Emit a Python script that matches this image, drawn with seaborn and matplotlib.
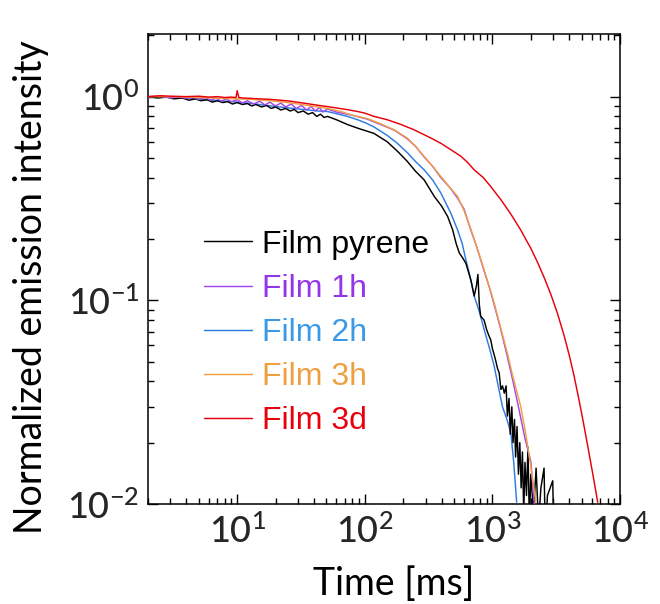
import numpy as np
import pandas as pd
import matplotlib
matplotlib.use("Agg")
import matplotlib.pyplot as plt
from matplotlib.lines import Line2D
from matplotlib.ticker import LogLocator
import seaborn as sns

# ---------------- data ----------------
series_names = ["Film pyrene", "Film 1h", "Film 2h", "Film 3h", "Film 3d"]

pyrene_t = [2, 2.4, 2.8, 3.2, 3.7, 4.2, 4.7, 5.2, 5.8, 6.4, 7.0, 7.7, 8.4, 9.2, 10, 11, 12, 13, 14, 15.5, 17,
            18.5, 20, 22, 24, 26, 28, 30, 33, 36, 39, 42, 45, 48, 51,
            60, 73, 88, 118, 150, 180, 216, 250, 292, 350, 400, 446, 488, 520, 550, 590, 620, 680,
            720, 750, 770, 790, 810, 860, 900, 930, 970, 1000, 1050, 1100, 1130, 1165, 1200, 1240,
            1280, 1310, 1350, 1380, 1420, 1450, 1490, 1520, 1560, 1600, 1640, 1680, 1720, 1760,
            1800, 1850, 1900, 1950, 2000, 2100, 2200, 2300, 2400, 2540, 2600, 2700, 2970, 3050]
pyrene_y = [1.00, 0.985, 0.995, 0.975, 0.985, 0.96, 0.975, 0.955, 0.965, 0.94, 0.955, 0.935, 0.945, 0.92, 0.935,
            0.915, 0.925, 0.90, 0.915, 0.89, 0.905, 0.875, 0.89, 0.86, 0.875, 0.85, 0.865, 0.835, 0.85, 0.82,
            0.835, 0.80, 0.82, 0.79, 0.80,
            0.77, 0.73, 0.70, 0.66, 0.60, 0.54, 0.48, 0.43, 0.39, 0.324, 0.29, 0.258, 0.222, 0.19, 0.171,
            0.16, 0.152, 0.125, 0.105, 0.118, 0.134, 0.095, 0.0835, 0.080, 0.072, 0.068, 0.064, 0.058,
            0.052, 0.046, 0.044, 0.0365, 0.038, 0.035,
            0.038, 0.027, 0.033, 0.022, 0.030, 0.020, 0.026, 0.017, 0.024, 0.014, 0.020, 0.012, 0.018,
            0.009, 0.016, 0.011, 0.019, 0.008, 0.014, 0.009, 0.015, 0.008, 0.012, 0.015, 0.007, 0.011,
            0.013, 0.006]

film1h_t = [2, 2.5, 3, 3.5, 4, 4.5, 5, 5.6, 6.2, 6.8, 7.5, 8.2, 9, 10, 11, 12, 13.5, 15, 16.5, 18, 20, 22,
            24, 26.5, 29, 32, 35, 38, 41, 44, 47, 51,
            60, 80, 105, 140, 170, 216, 250, 292, 340, 395, 460, 533, 600, 680, 760, 862, 950, 1033,
            1150, 1300, 1450, 1600, 1800, 2000, 2130]
film1h_y = [1.00, 1.005, 0.985, 1.00, 0.98, 0.995, 0.97, 0.99, 0.96, 0.985, 0.95, 0.975, 0.945, 0.965,
            0.93, 0.955, 0.92, 0.95, 0.91, 0.94, 0.90, 0.93, 0.89, 0.92, 0.875, 0.905, 0.86, 0.895, 0.85,
            0.885, 0.84, 0.87,
            0.84, 0.81, 0.775, 0.72, 0.685, 0.62, 0.57, 0.505, 0.455, 0.40, 0.36, 0.318, 0.28, 0.22,
            0.18, 0.139, 0.115, 0.095, 0.074, 0.054, 0.040, 0.030, 0.021, 0.0162, 0.010]

film2h_t = [2, 3, 4, 5, 6.3, 8, 10, 13, 16, 20, 25, 30, 36, 43, 51, 60, 73, 88, 103, 118, 150, 180,
            216, 250, 292, 340, 395, 472, 533, 580, 620, 670, 720, 790, 862, 950, 1033, 1110, 1200,
            1300, 1395, 1470, 1550]
film2h_y = [1.00, 0.99, 0.985, 0.975, 0.96, 0.95, 0.94, 0.925, 0.91, 0.895, 0.88, 0.87, 0.86, 0.85,
            0.845, 0.825, 0.80, 0.77, 0.74, 0.71, 0.645, 0.59, 0.53, 0.48, 0.437, 0.39, 0.336, 0.268,
            0.222, 0.19, 0.158, 0.13, 0.105, 0.088, 0.0718, 0.058, 0.0475, 0.038, 0.030, 0.026,
            0.0224, 0.016, 0.0102]

film3h_t = [2, 3, 4, 5, 6.5, 8, 10, 13, 16, 20, 25, 30, 36, 43, 51, 65, 80, 105, 130, 170, 216, 250,
            292, 340, 395, 460, 533, 600, 680, 760, 862, 950, 1033, 1150, 1310, 1450, 1670, 1850, 2000,
            2190]
film3h_y = [1.00, 1.00, 0.995, 0.99, 0.985, 0.98, 0.975, 0.97, 0.96, 0.95, 0.935, 0.92, 0.905, 0.89,
            0.875, 0.845, 0.81, 0.78, 0.74, 0.687, 0.625, 0.57, 0.508, 0.455, 0.405, 0.36, 0.324, 0.275,
            0.222, 0.18, 0.141, 0.115, 0.097, 0.075, 0.055, 0.042, 0.030, 0.021, 0.0153, 0.0102]

film3d_t = [2, 2.5, 3, 4, 5, 6, 7, 8, 9, 9.8, 10, 10.3, 11, 13, 15, 18, 22, 26, 31, 37, 44, 50, 60, 74,
            88, 100, 118, 150, 192, 240, 292, 340, 395, 470, 566, 640, 720, 850, 970, 1165, 1395,
            1670, 2000, 2265, 2550, 2870, 3240, 3660, 4000, 4370, 4700, 5100, 5600, 6100, 6690]
film3d_y = [1.00, 1.01, 1.005, 1.00, 1.005, 0.995, 1.00, 0.99, 0.995, 0.99, 1.07, 0.99, 0.985, 0.98,
            0.975, 0.97, 0.96, 0.95, 0.935, 0.92, 0.905, 0.895, 0.88, 0.862, 0.845, 0.83, 0.80, 0.77,
            0.73, 0.69, 0.65, 0.62, 0.59, 0.55, 0.51, 0.475, 0.437, 0.40, 0.362, 0.312, 0.265, 0.221,
            0.18, 0.153, 0.129, 0.107, 0.086, 0.0666, 0.0538, 0.0424, 0.034, 0.0262, 0.0191, 0.0142,
            0.0102]

line_colors = ["#000000", "#a347ee", "#2f7ce0", "#f0a040", "#e8000c"]
text_colors = ["#000000", "#9336ea", "#3a9ae8", "#eea040", "#e8000c"]
series_t = [pyrene_t, film1h_t, film2h_t, film3h_t, film3d_t]
series_y = [pyrene_y, film1h_y, film2h_y, film3h_y, film3d_y]

frames = []
for name, t, y in zip(series_names, series_t, series_y):
    frames.append(pd.DataFrame({"Time": t, "Intensity": y, "Sample": name}))
df = pd.concat(frames, ignore_index=True)

# ---------------- style ----------------
sns.set_theme(style="ticks")
plt.rcParams["font.family"] = ["Lato", "DejaVu Sans"]
plt.rcParams["font.weight"] = 500
plt.rcParams["mathtext.fontset"] = "custom"
plt.rcParams["mathtext.rm"] = "Lato:medium"
plt.rcParams["mathtext.it"] = "Lato:italic"
plt.rcParams["mathtext.bf"] = "Lato:bold"
plt.rcParams["axes.unicode_minus"] = False

fig = plt.figure(figsize=(6.6, 6.04), dpi=100)
ax = fig.add_axes([0.2242, 0.1656, 0.7152, 0.7781])

palette = dict(zip(series_names, line_colors))
sns.lineplot(data=df, x="Time", y="Intensity", hue="Sample", hue_order=series_names,
             palette=palette, estimator=None, sort=False, legend=False, linewidth=1.05, ax=ax)

zorders = {"Film pyrene": 3, "Film 1h": 4, "Film 2h": 2.5, "Film 3h": 4.5, "Film 3d": 5}
for line, name in zip(ax.get_lines(), series_names):
    line.set_zorder(zorders[name])

ax.set_xscale("log")
ax.set_yscale("log")
ax.set_xlim(2, 1e4)
ax.set_ylim(0.01, 2.03)
ax.xaxis.set_major_locator(LogLocator(base=10, numticks=10))
ax.xaxis.set_minor_locator(LogLocator(base=10, subs=np.arange(2, 10), numticks=20))
ax.yaxis.set_major_locator(LogLocator(base=10, numticks=10))
ax.yaxis.set_minor_locator(LogLocator(base=10, subs=np.arange(2, 10), numticks=20))

for s in ax.spines.values():
    s.set_linewidth(1.1)
    s.set_color("black")
ax.tick_params(which="both", direction="in", top=True, right=True, color="black", width=1.0)
ax.tick_params(which="major", length=7, labelsize=26, pad=7)
ax.tick_params(which="minor", length=4.5)
ax.tick_params(axis="y", which="major", pad=6)

ax.set_xlabel("Time [ms]", fontsize=27, color="black")
ax.set_ylabel("Normalized emission intensity", fontsize=27, color="black")
ax.xaxis.set_label_coords(0.52, -0.132)
ax.yaxis.set_label_coords(-0.209, 0.462)

handles = [Line2D([], [], color=c, lw=1.05) for c in line_colors]
leg = ax.legend(handles, series_names, loc="upper left", bbox_to_anchor=(0.119, 0.584),
                frameon=False, handlelength=1.5, handletextpad=0.3, labelspacing=0.445,
                borderpad=0, borderaxespad=0,
                prop={"family": "Liberation Sans", "size": 23})
for txt, c in zip(leg.get_texts(), text_colors):
    txt.set_color(c)

fig.savefig("out.png", dpi=100)
